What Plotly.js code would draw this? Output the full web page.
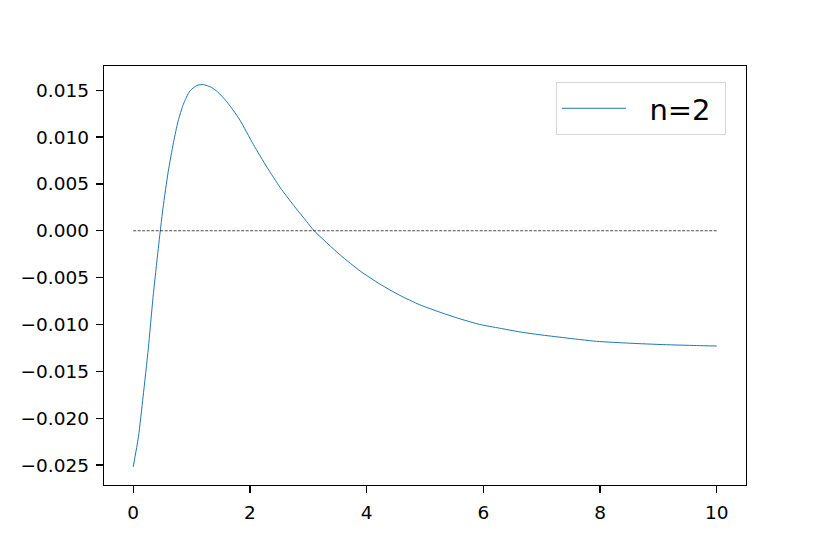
<!DOCTYPE html>
<html>
<head>
<meta charset="utf-8">
<script src="https://cdn.plot.ly/plotly-3.0.1.min.js"></script>
<style>
  html, body { margin: 0; padding: 0; background: #fff; }
  #plot { width: 830px; height: 554px; }
</style>
</head>
<body>
<div id="plot"></div>
<script>
// curve n=2
const xVals = [0, 0.09, 0.17, 0.26, 0.34, 0.43, 0.51, 0.6, 0.69, 0.77, 0.86, 0.97, 1.09, 1.2, 1.34, 1.45,
               1.6, 1.72, 1.83, 2.06, 2.29, 2.52, 2.75, 2.97, 3.1, 3.55, 3.89, 4.23, 4.57, 4.91, 5.26, 5.6,
               5.94, 6.28, 6.63, 6.97, 7.37, 7.94, 8.51, 9.08, 9.65, 10]
const yVals = [-0.0252, -0.0220, -0.0177, -0.0125, -0.0071, -0.0019, 0.0024, 0.0063, 0.0094, 0.0117, 0.0135, 0.0149, 0.0155, 0.0156, 0.0153, 0.0148,
               0.0138, 0.0128, 0.0118, 0.0092, 0.0068, 0.0046, 0.0027, 0.0010, 0, -0.0026, -0.0043, -0.0057, -0.0069, -0.0079, -0.0087, -0.0094,
               -0.0100, -0.0104, -0.0108, -0.0111, -0.0114, -0.0118, -0.0120, -0.01215, -0.01225, -0.0123]

// dashed zero line
const zeroX = [0, 10]
const zeroY = [0, 0]

const xTicks = [0, 2, 4, 6, 8, 10]
const yTicks = [-0.025, -0.020, -0.015, -0.010, -0.005, 0.000, 0.005, 0.010, 0.015]

let curve = {
    // nbsp padding keeps the gap between sample line and label
    name: '\u00a0\u00a0n=2\u00a0',
    type: 'scatter',
    mode: 'lines',
    x: xVals,
    y: yVals,
    line: { color: '#1f77b4', width: 1, shape: 'spline', smoothing: 0.6 }
}

let zero = {
    type: 'scatter',
    mode: 'lines',
    x: zeroX,
    y: zeroY,
    showlegend: false,
    hoverinfo: 'skip',
    line: { color: '#000', width: 0.7, dash: '3px,1.5px' }
}

const axisCommon = {
    showgrid: false,
    zeroline: false,
    showline: true,
    mirror: true,
    linecolor: '#000',
    linewidth: 1.3,
    ticks: 'outside',
    ticklen: 7,
    tickwidth: 1.3,
    tickcolor: '#000',
    ticklabelstandoff: 3,
    tickfont: { family: 'DejaVu Sans', size: 18.5, color: '#000' }
}

let layout = {
    width: 830,
    height: 554,
    margin: { l: 104, r: 84, t: 66, b: 69 },
    paper_bgcolor: '#fff',
    plot_bgcolor: '#fff',
    font: { family: 'DejaVu Sans', color: '#000' },
    xaxis: Object.assign({}, axisCommon, {
        range: [-0.5, 10.5],
        tickvals: xTicks,
        ticktext: xTicks.map(String)
    }),
    yaxis: Object.assign({}, axisCommon, {
        range: [-0.02713, 0.01758],
        tickvals: yTicks,
        tickformat: '.3f'
    }),
    legend: {
        x: 0.704,
        y: 0.962,
        xanchor: 'left',
        yanchor: 'top',
        itemwidth: 64,
        bgcolor: 'rgba(255,255,255,0.8)',
        bordercolor: '#d6d6d6',
        borderwidth: 1,
        font: { family: 'DejaVu Sans', size: 29, color: '#000' }
    },
    showlegend: true
}

Plotly.newPlot('plot', [curve, zero], layout, { displayModeBar: false, staticPlot: true })
</script>
</body>
</html>
